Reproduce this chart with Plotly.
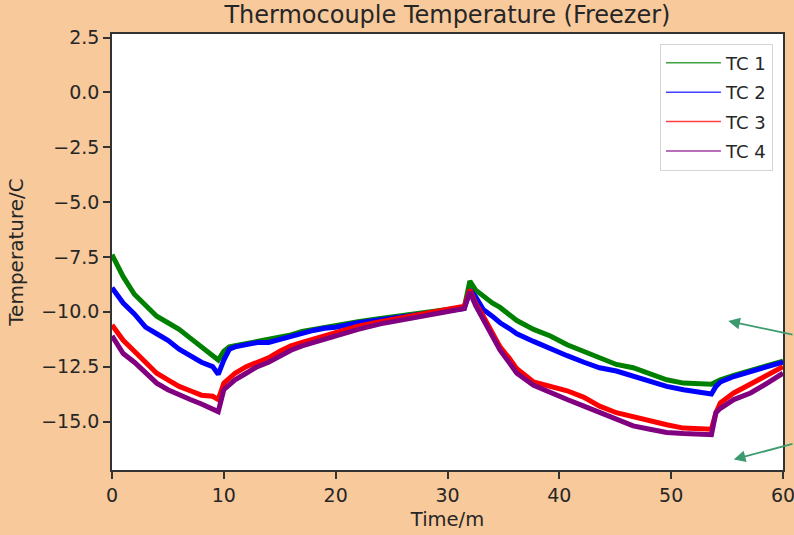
import plotly.graph_objects as go

time_m = [0, 1, 2, 3, 4, 5, 6, 7, 8, 9, 9.5, 10, 10.5, 11, 12, 13, 14, 15, 16, 17, 18, 19, 20,
          22, 24, 26, 28, 30, 31.5, 32, 32.5, 33.2, 34, 34.7, 35.5, 36.2, 37.7, 39.2, 40.7,
          42.2, 43.6, 45.1, 46.6, 48.1, 49.6, 51.1, 52.6, 53.6, 54, 54.4, 55.6, 57.1, 58.6, 60]

tc1 = [-7.4, -8.4, -9.2, -9.7, -10.2, -10.5, -10.8, -11.2, -11.6, -11.95, -12.2, -11.8, -11.6,
       -11.55, -11.45, -11.35, -11.3, -11.2, -11.05, -10.9, -10.8, -10.7, -10.65, -10.45, -10.3,
       -10.15, -10.0, -9.9, -9.8, -8.6, -9.0, -9.3, -9.6, -9.8, -10.1, -10.4, -10.8, -11.1,
       -11.5, -11.8, -12.1, -12.4, -12.55, -12.85, -13.1, -13.25, -13.3, -13.3, -13.2, -13.1,
       -12.9, -12.65, -12.45, -12.25]

tc2 = [-8.9, -9.6, -10.1, -10.7, -11.0, -11.3, -11.7, -12.0, -12.3, -12.5, -12.85, -12.2, -11.7,
       -11.6, -11.5, -11.4, -11.4, -11.25, -11.1, -10.95, -10.85, -10.75, -10.7, -10.5, -10.35,
       -10.2, -10.05, -9.95, -9.85, -9.0, -9.3, -9.9, -10.2, -10.5, -10.75, -11.0, -11.35, -11.7,
       -12.0, -12.3, -12.55, -12.7, -12.95, -13.2, -13.4, -13.55, -13.7, -13.75, -13.4, -13.2,
       -12.95, -12.7, -12.5, -12.3]

tc3 = [-10.6, -11.3, -11.8, -12.3, -12.8, -13.1, -13.4, -13.6, -13.8, -13.85, -14.0, -13.25, -13.0,
       -12.8, -12.5, -12.3, -12.1, -11.8, -11.55, -11.4, -11.25, -11.05, -10.9, -10.65, -10.45,
       -10.25, -10.05, -9.9, -9.75, -9.0, -9.6, -10.2, -10.95, -11.6, -12.1, -12.6, -13.2, -13.4,
       -13.6, -13.9, -14.3, -14.6, -14.8, -15.0, -15.15, -15.3, -15.35, -15.35, -14.6, -14.15,
       -13.7, -13.3, -12.85, -12.5]

tc4 = [-11.1, -11.9, -12.3, -12.8, -13.25, -13.55, -13.8, -14.0, -14.2, -14.4, -14.55, -13.55, -13.3,
       -13.1, -12.8, -12.5, -12.3, -12.0, -11.75, -11.55, -11.4, -11.2, -11.05, -10.8, -10.55,
       -10.35, -10.15, -10.0, -9.85, -9.1, -9.7, -10.35, -11.1, -11.75, -12.3, -12.8, -13.35, -13.7,
       -14.0, -14.3, -14.6, -14.9, -15.2, -15.35, -15.5, -15.55, -15.6, -15.6, -14.6, -14.4,
       -14.0, -13.7, -13.25, -12.8]

series_names = ["TC 1", "TC 2", "TC 3", "TC 4"]
series_values = [tc1, tc2, tc3, tc4]
series_colors = ["#008000", "#0000FF", "#FF0000", "#800080"]

x_ticks = [0, 10, 20, 30, 40, 50, 60]
y_ticks = [2.5, 0.0, -2.5, -5.0, -7.5, -10.0, -12.5, -15.0]

# arrow heads (data coords)
arrow_x = [55.1, 55.6]
arrow_y = [-10.42, -16.73]

FONT = "DejaVu Sans"
TXT = "#262626"

fig = go.Figure()
for name, vals, col in zip(series_names, series_values, series_colors):
    fig.add_trace(go.Scatter(x=time_m, y=vals, mode="lines", name=name,
                             legendgroup=name, showlegend=False,
                             line=dict(color=col, width=5)))
# thin legend entries (matplotlib-like legend handles)
for name, col in zip(series_names, series_colors):
    fig.add_trace(go.Scatter(x=[None], y=[None], mode="lines", name=name,
                             legendgroup=name, showlegend=True, opacity=0.75,
                             line=dict(color=col, width=1.5)))

for ax_, ay_, offx, offy in [(arrow_x[0], arrow_y[0], 100, 14), (arrow_x[1], arrow_y[1], 100, -16)]:
    fig.add_annotation(x=ax_, y=ay_, xref="x", yref="y", ax=offx, ay=offy,
                       axref="pixel", ayref="pixel", text="", showarrow=True,
                       arrowhead=2, arrowsize=1.3, arrowwidth=1.8, arrowcolor="#3C9A6E")

axis_common = dict(showline=True, linecolor="#333333", linewidth=1.5, mirror=True,
                   ticks="outside", ticklen=7, tickwidth=1.5, tickcolor="#333333",
                   showgrid=False, zeroline=False, automargin=False,
                   ticklabeloverflow="allow",
                   tickfont=dict(family=FONT, size=19, color=TXT))

fig.update_layout(
    width=794, height=535,
    paper_bgcolor="#F7C99B", plot_bgcolor="#FFFFFF",
    margin=dict(l=112, r=11, t=34, b=65, autoexpand=False),
    title=dict(text="Thermocouple Temperature (Freezer)", x=0.5635, xanchor="center",
               y=0.972, yanchor="middle",
               font=dict(family=FONT, size=24, color=TXT)),
    xaxis=dict(range=[0, 60], tickvals=x_ticks, ticktext=[str(v) for v in x_ticks],
               title=dict(text="Time/m", standoff=8,
                          font=dict(family=FONT, size=19.5, color=TXT)),
               **axis_common),
    yaxis=dict(range=[-17.21, 2.66], tickvals=y_ticks, tickformat=".1f",
               title=dict(text="Temperature/C", standoff=12,
                          font=dict(family=FONT, size=20, color=TXT)),
               **axis_common),
    legend=dict(x=0.985, y=0.978, xanchor="right", yanchor="top",
                bgcolor="rgba(255,255,255,0.9)", bordercolor="#D5D5D5", borderwidth=1,
                font=dict(family=FONT, size=18, color=TXT),
                itemwidth=55, tracegroupgap=3),
    showlegend=True,
)

post = ("document.documentElement.style.margin='0px';"
        "document.documentElement.style.overflow='hidden';"
        "document.body.style.margin='0px';"
        "document.body.style.overflow='hidden';")
fig.write_html("out.html", config={"displayModeBar": False}, post_script=post)
